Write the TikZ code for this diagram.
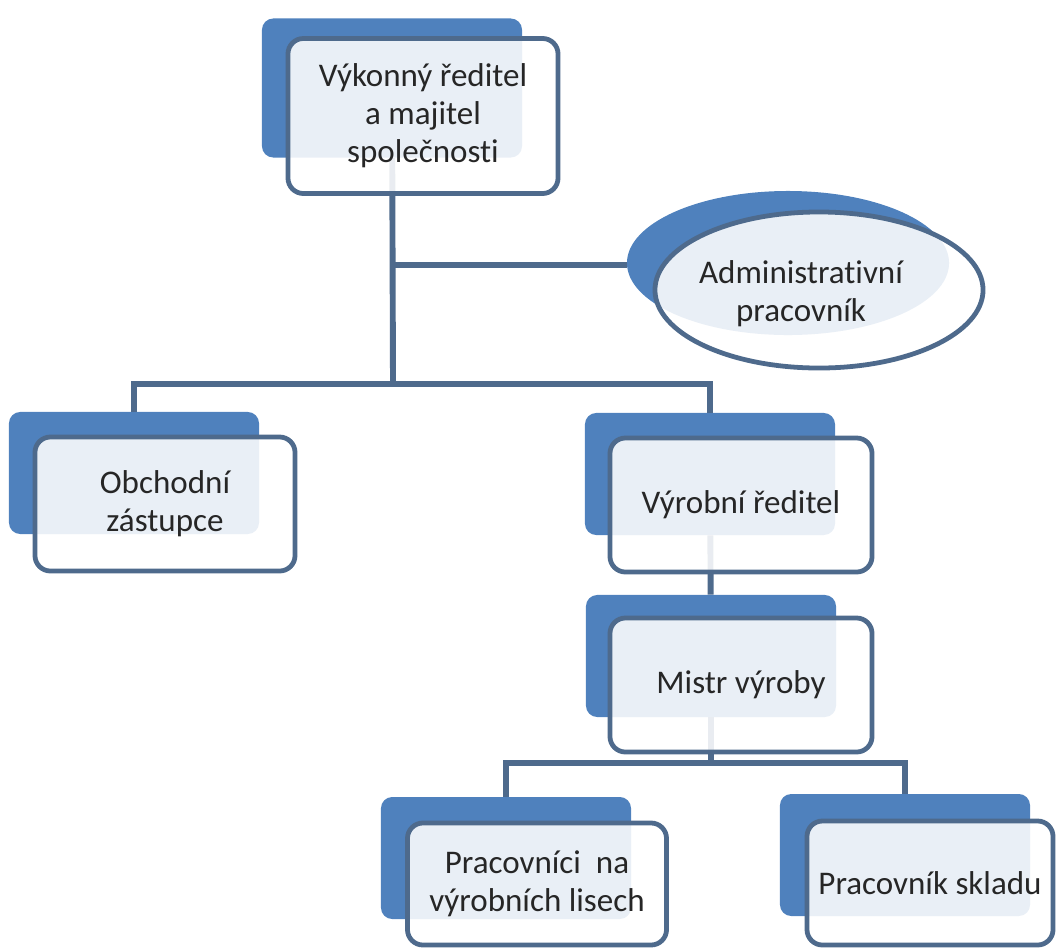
\documentclass[tikz,border=0pt]{standalone}
\usepackage{fontspec}
\setmainfont{Carlito}[Ligatures=NoCommon]
\usetikzlibrary{shapes.geometric}
\definecolor{darkbox}{RGB}{79,129,189}
\definecolor{frame}{RGB}{78,106,140}
\definecolor{ink}{RGB}{38,38,38}
\tikzset{
  back/.style={rectangle,rounded corners=8pt,fill=darkbox,inner sep=0pt,minimum width=6.25cm,minimum height=3.05cm},
  front/.style={rectangle,rounded corners=11pt,draw=frame,line width=3.4pt,fill=white,fill opacity=.88,text opacity=1,
    text=ink,inner sep=0pt,minimum width=6.55cm,minimum height=3.35cm,align=center,font=\fontsize{23.5}{27}\selectfont},
  link/.style={draw=frame,line width=4.2pt}
}
\begin{document}
\begin{tikzpicture}[x=0.025cm,y=-0.025cm]
\useasboundingbox (0,0) rectangle (1056,948);
\node[back,minimum width=6.5cm,minimum height=3.475cm] (ceob)at(392,88){};
\node[back,ellipse,minimum width=8.05cm,minimum height=3.6cm] (adminb)at(788,263){};
\node[back] (obchb)at(134,473){};
\node[back] (vyrb)at(710,474){};
\node[back] (mistrb)at(711,656){};
\node[back] (pracb)at(506,858){};
\node[back] (skladb)at(905,855){};
\coordinate (j1)at(393,265);
\coordinate (j2)at(393,384);
\coordinate (j3)at(711,763);
\draw[link] (ceob) -- (j2);
\draw[link] (j1) -- (j1-|adminb.west);
\draw[link] (obchb.north) |- (j2) -| (vyrb.north);
\draw[link] (vyrb) -- (mistrb);
\draw[link] (mistrb) -- (j3);
\draw[link] (pracb.north) |- (j3) -| (skladb.north);
\node[front,minimum width=6.75cm,minimum height=3.875cm] (ceo)at(423,116){Výkonný ředitel\\a majitel\\společnosti};
\node[front,ellipse,minimum width=8.2cm,minimum height=3.9cm,
  label={[ink,align=center,font=\fontsize{23.5}{27}\selectfont,xshift=-0.45cm,yshift=-0.1cm]center:Administrativní\\pracovník}] (admin)at(819,290){};
\node[front,minimum width=6.5cm] (obch)at(165,504){Obchodní\\zástupce};
\node[front] (vyr)at(741,505){Výrobní ředitel};
\node[front] (mistr)at(741,685){Mistr výroby};
\node[front,minimum width=6.475cm,minimum height=3.05cm] (prac)at(537,884){Pracovníci~ na\\výrobních lisech};
\node[front,minimum width=6.15cm,minimum height=3.1cm] (sklad)at(930,883){Pracovník skladu};
\end{tikzpicture}
\end{document}
